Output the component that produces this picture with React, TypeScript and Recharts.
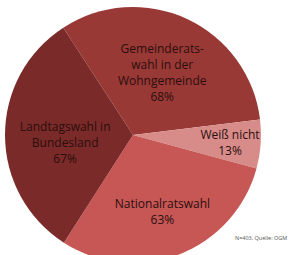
import { Cell, Pie, PieChart } from "recharts";

const categories = ["Gemeinderats-|wahl in der|Wohngemeinde", "Weiß nicht", "Nationalratswahl", "Landtagswahl in|Bundesland"];
const values = [68, 13, 63, 67];
const colors = ["#993936", "#d88c8a", "#c65755", "#7a2a28"];
const labelRadius = [0.54, 0.76, 0.64, 0.53];
const labelShiftY = [0, 0, 0, 7];

const data = categories.map((name, i) => ({ name, value: values[i] }));

const RADIAN = Math.PI / 180;

function renderLabel(props: any) {
  const { cx, cy, midAngle, outerRadius, index } = props;
  const r = outerRadius * labelRadius[index];
  const x = cx + r * Math.cos(-midAngle * RADIAN);
  const y = cy + r * Math.sin(-midAngle * RADIAN) + labelShiftY[index];
  const lines = [...data[index].name.split("|"), `${data[index].value}%`];
  const lineHeight = 16;
  const top = y - ((lines.length - 1) * lineHeight) / 2;
  return (
    <text
      x={x}
      y={top}
      textAnchor="middle"
      dominantBaseline="central"
      fill="#2b0e0d"
      fontFamily="'Open Sans', sans-serif"
      fontSize={12}
    >
      {lines.map((line, i) => (
        <tspan key={i} x={x} y={top + i * lineHeight}>
          {line}
        </tspan>
      ))}
    </text>
  );
}

export default function App() {
  return (
    <div style={{ position: "absolute", left: 0, top: 0, width: 301, height: 255, background: "#fff", overflow: "hidden" }}>
      <PieChart width={301} height={255} margin={{ top: 0, right: 0, bottom: 0, left: 0 }}>
        <Pie
          data={data}
          dataKey="value"
          cx={133}
          cy={135}
          outerRadius={128}
          startAngle={123}
          endAngle={-237}
          stroke="none"
          labelLine={false}
          label={renderLabel}
          isAnimationActive={false}
        >
          {data.map((d, i) => (
            <Cell key={d.name} fill={colors[i]} />
          ))}
        </Pie>
      </PieChart>
      <div
        style={{
          position: "absolute",
          left: 235,
          top: 234,
          fontFamily: "'Open Sans', sans-serif",
          fontSize: 5.5,
          color: "#555",
          whiteSpace: "nowrap",
        }}
      >
        N=403, Quelle: OGM
      </div>
    </div>
  );
}
